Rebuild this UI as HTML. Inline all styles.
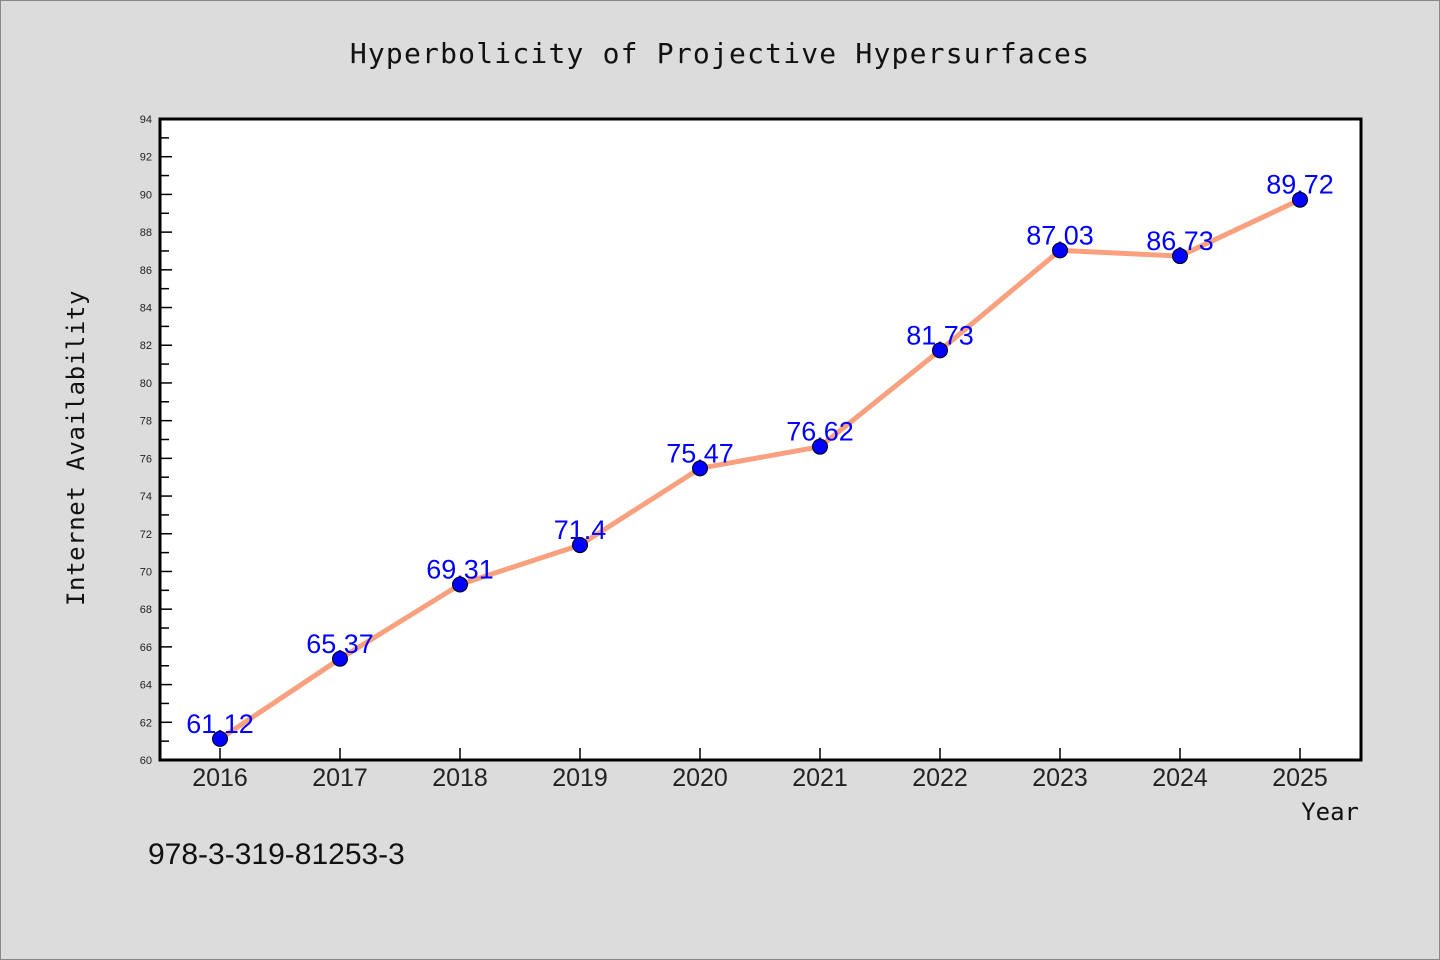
<!DOCTYPE html>
<html><head><meta charset="utf-8"><style>
html,body{margin:0;padding:0;background:#dcdcdc;}
svg{display:block;}
.mono{font-family:"DejaVu Sans Mono","Liberation Mono",monospace;}
</style></head><body>
<svg id="chart" width="1440" height="960" xmlns="http://www.w3.org/2000/svg">
<rect x="0.5" y="0.5" width="1439" height="959" fill="#dcdcdc" stroke="#888"/>
<text class="mono" x="720" y="63" font-size="28" text-anchor="middle" fill="#111" style="letter-spacing:1.2px">Hyperbolicity of Projective Hypersurfaces</text>
<rect x="160" y="119" width="1201" height="641" fill="#fff"/>
<g id="yticks"></g><g id="xticks"></g>
<rect x="160" y="119" width="1201" height="641" fill="none" stroke="#000" stroke-width="3"/>
<g id="series"></g>
<text class="mono" transform="translate(84,448) rotate(-90)" font-size="24" text-anchor="middle" fill="#111" style="letter-spacing:0.6px">Internet Availability</text>
<text class="mono" x="1359" y="820" font-size="24" text-anchor="end" fill="#111">Year</text>
<text x="148" y="864" font-size="30" fill="#111" style="font-family:'WenQuanYi Zen Hei','Liberation Sans',sans-serif">978-3-319-81253-3</text>
</svg>
<script>
const years=["2016","2017","2018","2019","2020","2021","2022","2023","2024","2025"];
const values=[61.12,65.37,69.31,71.4,75.47,76.62,81.73,87.03,86.73,89.72];
const yMin=60, yMax=94;
const NS="http://www.w3.org/2000/svg";
const L=160,R=1361,T=119,B=760;
const FONT="font-family:'WenQuanYi Zen Hei','Liberation Sans',sans-serif";
function xs(i){return 220+i*120;}
function ys(v){return B-(v-yMin)/(yMax-yMin)*(B-T);}
function mk(tag,attrs,parent){const e=document.createElementNS(NS,tag);for(const k in attrs)e.setAttribute(k,attrs[k]);parent.appendChild(e);return e;}
const yt=document.getElementById('yticks');
for(let v=yMin;v<=yMax;v++){
  const y=ys(v);const major=v%2===0;
  const t=mk('line',{x1:L,x2:L+(major?12:9),y1:y,y2:y,stroke:'#000','stroke-width':1.5},yt);
  
  
  if(major){const lb=mk('text',{x:152,y:y+4,'font-size':11,'text-anchor':'end',fill:'#222',style:FONT},yt);lb.textContent=v;
    
    }
}
const xt=document.getElementById('xticks');
years.forEach((yr,i)=>{
  const x=xs(i);
  const t=mk('line',{x1:x,x2:x,y1:B,y2:B-12,stroke:'#000','stroke-width':1.5},xt);
  
  
  const lb=mk('text',{x:x,y:786,'font-size':25,'text-anchor':'middle',fill:'#222',style:FONT},xt);lb.textContent=yr;
  
  
});
const sg=document.getElementById('series');
const pts=values.map((v,i)=>xs(i)+','+ys(v)).join(' ');
const pl=mk('polyline',{points:pts,fill:'none',stroke:'#f9a07e','stroke-width':5,'stroke-linejoin':'round'},sg);


values.forEach((v,i)=>{
  const lb=mk('text',{x:xs(i),y:ys(v)-6,'font-size':27,'text-anchor':'middle',fill:'#0000ff',style:FONT},sg);lb.textContent=String(v);
  
  
});
values.forEach((v,i)=>{
  const c=mk('circle',{cx:xs(i),cy:ys(v),r:7.5,fill:'#0000ff',stroke:'#000','stroke-width':1},sg);
  
  
});
</script>
</body></html>
